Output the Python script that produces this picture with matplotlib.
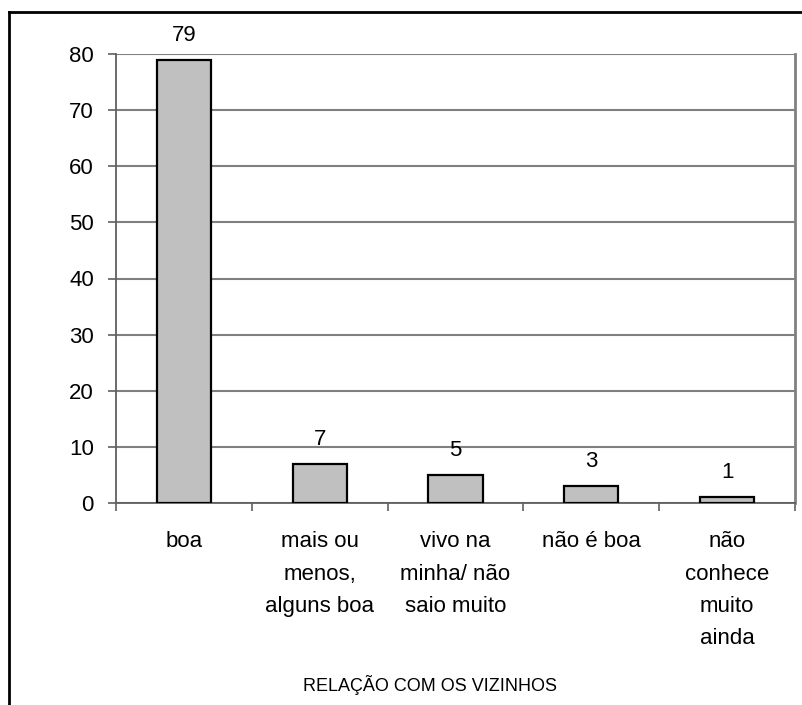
import matplotlib
matplotlib.use('Agg')
import matplotlib.pyplot as plt
from matplotlib.lines import Line2D
import numpy as np

categories = ['boa', 'mais ou\nmenos,\nalguns boa', 'vivo na\nminha/ não\nsaio muito',
              'não é boa', 'não\nconhece\nmuito\nainda']
values = [79, 7, 5, 3, 1]
axis_title = 'RELAÇÃO COM OS VIZINHOS'

plt.rcParams['font.family'] = ['Liberation Sans', 'DejaVu Sans']

fig = plt.figure(figsize=(8.02, 7.05), dpi=100)
ax = fig.add_axes([116 / 802, 1 - 503 / 705, (795 - 116) / 802, (503 - 54) / 705])

x = np.arange(len(values))
bars = ax.bar(x, values, width=0.4, color='#C0C0C0', edgecolor='black', linewidth=1.6, zorder=3)
for xi, v in zip(x, values):
    ax.annotate(str(v), (xi, v), xytext=(0, 10), textcoords='offset points',
                ha='center', va='bottom', fontsize=16)

ax.set_xlim(-0.5, len(values) - 0.5)
ax.set_ylim(0, 80)
ax.set_yticks(range(0, 81, 10))
ax.set_xticks(x)
ax.set_xticklabels(categories, fontsize=16, linespacing=1.7, va='top')
ax.set_xticks(np.arange(len(values) + 1) - 0.5, minor=True)
ax.tick_params(axis='x', which='major', length=0, pad=20.5)
ax.tick_params(axis='x', which='minor', length=6, width=1.2, color='#606060', direction='out')
ax.tick_params(axis='y', length=6, width=1.2, color='#606060', pad=10, labelsize=16)

ax.grid(axis='y', color='#808080', linewidth=1.5, zorder=0)
for s in ['left', 'bottom', 'right']:
    ax.spines[s].set_color('#606060')
    ax.spines[s].set_linewidth(1.3)
ax.spines['right'].set_color('#808080')
ax.spines['right'].set_linewidth(2)
ax.spines['top'].set_visible(False)

fig.text(430 / 802, 1 - 685 / 705, axis_title, ha='center', va='center', fontsize=13)

# outer chart frame
fig.add_artist(Line2D([9 / 802, 1], [1 - 12 / 705] * 2, color='black', linewidth=2, transform=fig.transFigure))
fig.add_artist(Line2D([9 / 802] * 2, [0, 1 - 12 / 705], color='black', linewidth=2, transform=fig.transFigure))

fig.savefig('out.png', dpi=100)
